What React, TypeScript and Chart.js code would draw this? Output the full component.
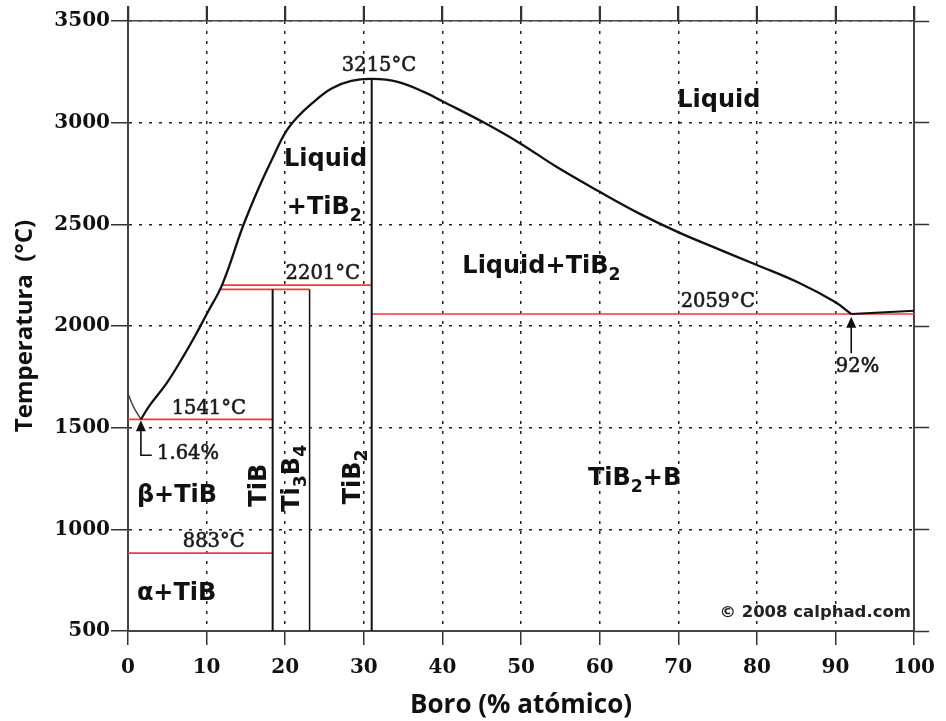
import { useEffect, useRef } from "react";
import { Chart, registerables } from "chart.js";

Chart.register(...registerables);

// Axis ranges (boron content in at.% and temperature in °C)
const X_MIN = 0;
const X_MAX = 100;
const X_STEP = 10;
const T_MIN = 500;
const T_MAX = 3500;
const T_STEP = 500;

// Liquidus on the Ti-rich side: Ti melting point down to the eutectic
const LIQ_TI_X = [0, 0.7, 1.64];
const LIQ_TI_T = [1668, 1602, 1541];

// Liquidus from the Ti-side eutectic over the TiB2 maximum to the B-side eutectic
const LIQ_MAIN_X = [
  1.64, 2.8, 4.9, 7.0, 8.7, 10.0, 12.0, 14.6, 16.7, 18.4, 20.0, 21.5, 23.4, 25.9, 28.4,
  31.0, 34.3, 37.7, 40.0, 45.1, 49.9, 54.5, 60.0, 65.0, 69.9, 75.1, 80.0, 85.2, 89.9, 92.0,
];
const LIQ_MAIN_T = [
  1541, 1612, 1718, 1848, 1963, 2058, 2205, 2488, 2685, 2826, 2950, 3025, 3095, 3168, 3205,
  3215, 3201, 3150, 3105, 3004, 2898, 2783, 2660, 2554, 2463, 2378, 2300, 2215, 2119, 2059,
];

// Liquidus on the B-rich side
const LIQ_B_X = [92, 100];
const LIQ_B_T = [2059, 2075];

// Invariant reaction isotherms: temperature and composition span
const ISO_T = [1541, 883, 2201, 2180, 2059];
const ISO_X0 = [0, 0, 12.0, 11.6, 31.0];
const ISO_X1 = [18.4, 18.4, 31.0, 23.1, 100];

// Line compounds: composition and upper stability limit
const COMPOUND_NAMES = ["TiB", "Ti_3B_4", "TiB_2"];
const COMPOUND_X = [18.4, 23.1, 31.0];
const COMPOUND_TOP = [2180, 2180, 3215];
const COMPOUND_LABEL_X = [16.77, 20.97, 28.66];
const COMPOUND_LABEL_T = [1217, 1251, 1258];

// Phase field names ("_" marks a subscript character)
const PHASE_NAMES = ["Liquid", "Liquid", "+TiB_2", "Liquid+TiB_2", "TiB_2+B", "β+TiB", "α+TiB"];
const PHASE_X = [69.86, 19.84, 20.2, 42.53, 58.5, 1.13, 1.13];
const PHASE_T = [3107, 2817, 2582, 2291, 1248, 1167, 684];

// Invariant point values
const VALUE_TEXTS = ["3215°C", "2201°C", "1541°C", "883°C", "2059°C", "1.64%", "92%"];
const VALUE_X = [27.2, 20.05, 5.55, 6.97, 70.3, 3.7, 90.04];
const VALUE_T = [3281, 2255, 1594, 938, 2119, 1372, 1797];

// Eutectic composition pointers
const ARROW_X = [1.64, 92];
const ARROW_TIP_T = [1536, 2045];
const ARROW_TAIL_T = [1364, 1866];
const ARROW_ELBOW_X = [3.03, 92];

const CREDIT = "© 2008 calphad.com";
const CREDIT_X = 99.6;
const CREDIT_T = 592;

const X_TITLE = "Boro (% atómico)";
const Y_TITLE = "Temperatura  (°C)";

const W = 946;
const H = 721;

type Seg = { s: string; sub: boolean };

function parseRich(t: string): Seg[] {
  const out: Seg[] = [];
  let buf = "";
  for (let i = 0; i < t.length; i++) {
    if (t[i] === "_" && i + 1 < t.length) {
      if (buf) {
        out.push({ s: buf, sub: false });
        buf = "";
      }
      out.push({ s: t[i + 1], sub: true });
      i++;
    } else {
      buf += t[i];
    }
  }
  if (buf) out.push({ s: buf, sub: false });
  return out;
}

function drawRich(
  ctx: CanvasRenderingContext2D,
  text: string,
  x: number,
  y: number,
  o: {
    size: number;
    family: string;
    weight: string;
    align: "left" | "center" | "right";
    rotate?: boolean;
    color: string;
    stroke?: number;
  }
) {
  const segs = parseRich(text);
  const mainFont = `${o.weight} ${o.size}px "${o.family}"`;
  const subFont = `${o.weight} ${o.size * 0.72}px "${o.family}"`;
  const widths: number[] = [];
  let total = 0;
  for (const s of segs) {
    ctx.font = s.sub ? subFont : mainFont;
    const w = ctx.measureText(s.s).width;
    widths.push(w);
    total += w;
  }
  ctx.save();
  ctx.translate(x, y);
  if (o.rotate) ctx.rotate(-Math.PI / 2);
  ctx.textBaseline = "middle";
  ctx.textAlign = "left";
  ctx.fillStyle = o.color;
  ctx.strokeStyle = o.color;
  ctx.lineJoin = "round";
  let cx = o.align === "left" ? 0 : o.align === "center" ? -total / 2 : -total;
  segs.forEach((s, i) => {
    ctx.font = s.sub ? subFont : mainFont;
    const dy = s.sub ? o.size * 0.37 : 0;
    ctx.fillText(s.s, cx, dy);
    if (o.stroke) {
      ctx.lineWidth = o.stroke;
      ctx.strokeText(s.s, cx, dy);
    }
    cx += widths[i];
  });
  ctx.restore();
}

const annotations = {
  id: "diagramAnnotations",
  afterDatasetsDraw(chart: any) {
    const { ctx, scales } = chart;
    const px = (v: number) => scales.x.getPixelForValue(v);
    const py = (v: number) => scales.y.getPixelForValue(v);

    // eutectic pointers
    ctx.save();
    ctx.strokeStyle = "#111";
    ctx.fillStyle = "#111";
    ctx.lineWidth = 1.6;
    ARROW_X.forEach((ax, i) => {
      const x = px(ax);
      const tip = py(ARROW_TIP_T[i]);
      const tail = py(ARROW_TAIL_T[i]);
      const headLen = 11;
      const headHalf = 5;
      ctx.beginPath();
      ctx.moveTo(px(ARROW_ELBOW_X[i]), tail);
      ctx.lineTo(x, tail);
      ctx.lineTo(x, tip + headLen - 1);
      ctx.stroke();
      ctx.beginPath();
      ctx.moveTo(x, tip);
      ctx.lineTo(x - headHalf, tip + headLen);
      ctx.lineTo(x + headHalf, tip + headLen);
      ctx.closePath();
      ctx.fill();
    });
    ctx.restore();

    VALUE_TEXTS.forEach((t, i) => {
      drawRich(ctx, t, px(VALUE_X[i]), py(VALUE_T[i]), {
        size: 19.5,
        family: "DejaVu Serif",
        weight: "normal",
        align: "left",
        color: "#1a1a1a",
        stroke: 0.6,
      });
    });

    PHASE_NAMES.forEach((t, i) => {
      drawRich(ctx, t, px(PHASE_X[i]), py(PHASE_T[i]), {
        size: 24,
        family: "DejaVu Sans",
        weight: "bold",
        align: "left",
        color: "#111",
      });
    });

    COMPOUND_NAMES.forEach((t, i) => {
      drawRich(ctx, t, px(COMPOUND_LABEL_X[i]), py(COMPOUND_LABEL_T[i]), {
        size: 24,
        family: "DejaVu Sans",
        weight: "bold",
        align: "center",
        rotate: true,
        color: "#111",
      });
    });

    drawRich(ctx, CREDIT, px(CREDIT_X), py(CREDIT_T), {
      size: 16.5,
      family: "DejaVu Sans",
      weight: "bold",
      align: "right",
      color: "#222",
    });
  },
};

// Outward tick marks above the top frame edge, drawn on a separate layer
// from the x scale's tick positions once the chart has laid itself out.
function makeTopTicks(layer: HTMLCanvasElement) {
  return {
    id: "topTickMarks",
    afterDraw(chart: any) {
      const octx = layer.getContext("2d");
      if (!octx) return;
      const { scales, chartArea } = chart;
      octx.clearRect(0, 0, layer.width, layer.height);
      octx.fillStyle = "#333";
      for (const t of scales.x.ticks) {
        const p = Math.round(scales.x.getPixelForValue(t.value));
        octx.fillRect(p - 1, Math.round(chartArea.top) - 15, 2, 15);
      }
    },
  };
}

const pts = (xs: number[], ys: number[]) => xs.map((x, i) => ({ x, y: ys[i] }));

export default function App() {
  const ref = useRef<HTMLCanvasElement>(null);
  const layerRef = useRef<HTMLCanvasElement>(null);

  useEffect(() => {
    const canvas = ref.current;
    const layer = layerRef.current;
    if (!canvas || !layer) return;

    const datasets: any[] = [];
    datasets.push({
      data: pts(LIQ_MAIN_X, LIQ_MAIN_T),
      borderColor: "#111",
      borderWidth: 2.3,
      tension: 0.4,
    });
    datasets.push({
      data: pts(LIQ_TI_X, LIQ_TI_T),
      borderColor: "#444",
      borderWidth: 1.5,
      tension: 0.3,
    });
    datasets.push({
      data: pts(LIQ_B_X, LIQ_B_T),
      borderColor: "#111",
      borderWidth: 2,
    });
    COMPOUND_X.forEach((cx, i) => {
      datasets.push({
        data: [
          { x: cx, y: T_MIN },
          { x: cx, y: COMPOUND_TOP[i] },
        ],
        borderColor: "#111",
        borderWidth: i === 1 ? 1.5 : 2,
      });
    });
    ISO_T.forEach((t, i) => {
      datasets.push({
        data: [
          { x: ISO_X0[i], y: t },
          { x: ISO_X1[i], y: t },
        ],
        borderColor: "#f23a3a",
        borderWidth: 1.6,
      });
    });

    const gridDash = [3, 7];
    const tickFont = { family: "DejaVu Serif", weight: "bold" as const, size: 20 };

    const chart = new Chart(canvas, {
      type: "line",
      data: { datasets },
      plugins: [annotations, makeTopTicks(layer)],
      options: {
        responsive: false,
        animation: false,
        events: [],
        layout: { padding: 0 },
        elements: { point: { radius: 0 }, line: { tension: 0 } },
        plugins: { legend: { display: false }, tooltip: { enabled: false } },
        scales: {
          x: {
            type: "linear",
            position: "bottom",
            min: X_MIN,
            max: X_MAX,
            ticks: {
              stepSize: X_STEP,
              padding: 11,
              color: "#111",
              font: tickFont,
              maxRotation: 0,
              autoSkip: false,
              callback: (v: any) => String(v),
            },
            grid: {
              color: "#222",
              lineWidth: 1.5,
              tickLength: 14,
              tickColor: "#333",
              tickWidth: 1.5,
              tickBorderDash: [],
            },
            border: { display: true, color: "#444", width: 2, dash: gridDash },
            title: {
              display: true,
              text: X_TITLE,
              color: "#111",
              font: { family: "Open Sans", weight: "bold", size: 26, lineHeight: 1 },
              padding: { top: 0, bottom: 2 },
            },
            afterFit: (s: any) => {
              s.height = 90;
            },
          },
          x2: {
            type: "linear",
            axis: "x",
            display: true,
            position: "top",
            min: X_MIN,
            max: X_MAX,
            ticks: { stepSize: X_STEP, display: false },
            grid: {
              drawOnChartArea: false,
              tickLength: 15,
              tickColor: "#333",
              tickWidth: 1.5,
            },
            border: { display: true, color: "#444", width: 1.5 },
            afterFit: (s: any) => {
              s.height = 21;
            },
          },
          y: {
            type: "linear",
            position: "left",
            min: T_MIN,
            max: T_MAX,
            ticks: {
              stepSize: T_STEP,
              padding: 1,
              color: "#111",
              font: tickFont,
              callback: (v: any) => String(v),
            },
            grid: {
              color: "#222",
              lineWidth: 1.5,
              tickLength: 17,
              tickColor: "#333",
              tickWidth: 1.5,
              tickBorderDash: [],
            },
            border: { display: true, color: "#444", width: 2, dash: gridDash },
            title: {
              display: true,
              text: Y_TITLE,
              color: "#111",
              font: { family: "Open Sans", weight: "bold", size: 24, lineHeight: 1.2 },
              padding: { top: 11, bottom: 0 },
            },
            afterFit: (s: any) => {
              s.width = 128;
            },
          },
          y2: {
            type: "linear",
            axis: "y",
            display: true,
            position: "right",
            min: T_MIN,
            max: T_MAX,
            ticks: { stepSize: T_STEP, display: false },
            grid: {
              drawOnChartArea: false,
              tickLength: 15,
              tickColor: "#333",
              tickWidth: 1.5,
            },
            border: { display: true, color: "#444", width: 2 },
            afterFit: (s: any) => {
              s.width = 26;
            },
          },
        },
      } as any,
    });

    return () => {
      chart.destroy();
      const octx = layer.getContext("2d");
      if (octx) octx.clearRect(0, 0, layer.width, layer.height);
    };
  }, []);

  return (
    <div style={{ position: "absolute", left: 0, top: 0, width: W, height: H, background: "#fff" }}>
      <canvas ref={ref} width={W} height={H} style={{ display: "block" }} />
      <canvas
        ref={layerRef}
        width={W}
        height={H}
        style={{ position: "absolute", left: 0, top: 0, pointerEvents: "none" }}
      />
    </div>
  );
}
